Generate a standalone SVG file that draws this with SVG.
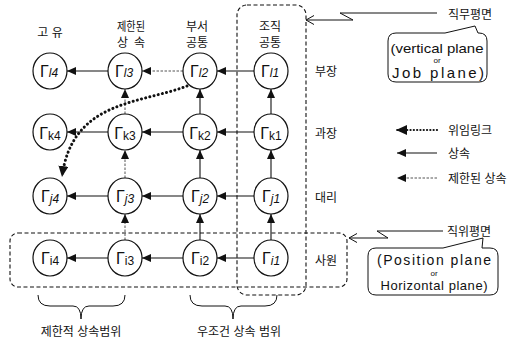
<svg xmlns="http://www.w3.org/2000/svg" width="520" height="343" viewBox="0 0 520 343">
  <style>
    .ko { font-family: "Liberation Sans", "Noto Sans CJK KR", sans-serif; font-size: 12px; fill: #111; }
    .en { font-family: "Liberation Sans", "Noto Sans CJK KR", sans-serif; fill: #111; }
    .node ellipse { fill: #fff; stroke: #111; stroke-width: 1.2; }
    .lbl { font-family: "Liberation Sans", sans-serif; fill: #111; text-anchor: middle; }
    .g { font-size: 16px; }
    .sub { font-size: 12px; }
    .it { font-style: italic; }
    .inh { stroke: #111; stroke-width: 1.1; fill: none; marker-end: url(#tri); }
    .lim { stroke: #555; stroke-width: 1; stroke-dasharray: 2.5 1.5; fill: none; marker-end: url(#tri); }
    .del { stroke: #111; stroke-width: 3; stroke-dasharray: 0.1 4.2; stroke-linecap: round; fill: none; marker-end: url(#bigtri); }
    .plane { fill: none; stroke: #111; stroke-width: 1.1; stroke-dasharray: 4 2.5; }
    .thin { fill: none; stroke: #111; stroke-width: 1; }
  </style>
  <defs>
    <marker id="tri" markerUnits="userSpaceOnUse" markerWidth="10" markerHeight="8" refX="9" refY="4" orient="auto">
      <path d="M0,0 L9,4 L0,8 Z" fill="#111"/>
    </marker>
    <marker id="bigtri" markerUnits="userSpaceOnUse" markerWidth="12" markerHeight="10" refX="11" refY="5" orient="auto">
      <path d="M0,0 L11,5 L0,10 Z" fill="#111"/>
    </marker>
  </defs>

  <!-- dashed plane outlines -->
  <rect class="plane" x="237" y="5" width="69" height="290" rx="10"/>
  <rect class="plane" x="10" y="233" width="337" height="54" rx="8"/>

  <!-- column headings -->
  <text class="ko" x="50" y="37" text-anchor="middle">고 유</text>
  <text class="ko" x="117" y="31" textLength="28" lengthAdjust="spacingAndGlyphs">제한된</text>
  <text class="ko" x="117" y="47" textLength="28" lengthAdjust="spacing">상 속</text>
  <text class="ko" x="197" y="31" text-anchor="middle">부서</text>
  <text class="ko" x="197" y="47" text-anchor="middle">공통</text>
  <text class="ko" x="270" y="31" text-anchor="middle">조직</text>
  <text class="ko" x="270" y="47" text-anchor="middle">공통</text>

  <!-- row headings -->
  <text class="ko" x="315" y="76">부장</text>
  <text class="ko" x="315" y="138">과장</text>
  <text class="ko" x="315" y="202">대리</text>
  <text class="ko" x="315" y="265">사원</text>

  <!-- connectors -->
  <g id="connectors">
    <!-- top row -->
    <line class="inh" x1="108" y1="71" x2="67" y2="71"/>
    <line class="lim" x1="183" y1="71" x2="142" y2="71"/>
    <line class="inh" x1="254" y1="71" x2="217" y2="71"/>
    <!-- k row -->
    <line class="inh" x1="108" y1="132" x2="67" y2="132"/>
    <line class="inh" x1="183" y1="132" x2="142" y2="132"/>
    <line class="inh" x1="254" y1="132" x2="217" y2="132"/>
    <!-- j row -->
    <line class="inh" x1="108" y1="196" x2="67" y2="196"/>
    <line class="inh" x1="183" y1="196" x2="142" y2="196"/>
    <line class="inh" x1="254" y1="196" x2="217" y2="196"/>
    <!-- i row -->
    <line class="inh" x1="108" y1="258" x2="67" y2="258"/>
    <line class="inh" x1="183" y1="258" x2="142" y2="258"/>
    <line class="inh" x1="254" y1="258" x2="217" y2="258"/>
    <!-- upward links, column 2 (limited) -->
    <line class="lim" x1="125" y1="114" x2="125" y2="89"/>
    <line class="lim" x1="125" y1="178" x2="125" y2="150"/>
    <line class="lim" x1="125" y1="240" x2="125" y2="214"/>
    <!-- upward links, column 3 -->
    <line class="inh" x1="200" y1="114" x2="200" y2="89"/>
    <line class="inh" x1="200" y1="178" x2="200" y2="150"/>
    <line class="inh" x1="200" y1="240" x2="200" y2="214"/>
    <!-- upward links, column 4 -->
    <line class="inh" x1="271" y1="114" x2="271" y2="89"/>
    <line class="inh" x1="271" y1="178" x2="271" y2="150"/>
    <line class="inh" x1="271" y1="240" x2="271" y2="214"/>
    <!-- delegation link -->
    <path class="del" d="M187,86 C140,104 72,100 62,177"/>
  </g>

  <!-- nodes -->
  <g id="n-l4" class="node"><ellipse cx="50" cy="71" rx="17" ry="18"/><text class="lbl" x="49" y="77"><tspan class="g">Γ</tspan><tspan class="sub it">l4</tspan></text></g>
  <g id="n-l3" class="node"><ellipse cx="125" cy="71" rx="17" ry="18"/><text class="lbl" x="124" y="77"><tspan class="g">Γ</tspan><tspan class="sub it">l3</tspan></text></g>
  <g id="n-l2" class="node"><ellipse cx="200" cy="71" rx="17" ry="18"/><text class="lbl" x="199" y="77"><tspan class="g">Γ</tspan><tspan class="sub it">l2</tspan></text></g>
  <g id="n-l1" class="node"><ellipse cx="271" cy="71" rx="17" ry="18"/><text class="lbl" x="270" y="77"><tspan class="g">Γ</tspan><tspan class="sub it">l1</tspan></text></g>

  <g id="n-k4" class="node"><ellipse cx="50" cy="132" rx="17" ry="18"/><text class="lbl" x="50" y="139"><tspan class="g">Γ</tspan><tspan class="sub" dy="1">k4</tspan></text></g>
  <g id="n-k3" class="node"><ellipse cx="125" cy="132" rx="17" ry="18"/><text class="lbl" x="125" y="139"><tspan class="g">Γ</tspan><tspan class="sub" dy="1">k3</tspan></text></g>
  <g id="n-k2" class="node"><ellipse cx="200" cy="132" rx="17" ry="18"/><text class="lbl" x="200" y="139"><tspan class="g">Γ</tspan><tspan class="sub" dy="1">k2</tspan></text></g>
  <g id="n-k1" class="node"><ellipse cx="271" cy="132" rx="17" ry="18"/><text class="lbl" x="271" y="139"><tspan class="g">Γ</tspan><tspan class="sub" dy="1">k1</tspan></text></g>

  <g id="n-j4" class="node"><ellipse cx="50" cy="196" rx="17" ry="18"/><text class="lbl" x="50" y="202"><tspan class="g">Γ</tspan><tspan class="sub it" dy="1">j4</tspan></text></g>
  <g id="n-j3" class="node"><ellipse cx="125" cy="196" rx="17" ry="18"/><text class="lbl" x="125" y="202"><tspan class="g">Γ</tspan><tspan class="sub it" dy="1">j3</tspan></text></g>
  <g id="n-j2" class="node"><ellipse cx="200" cy="196" rx="17" ry="18"/><text class="lbl" x="200" y="202"><tspan class="g">Γ</tspan><tspan class="sub it" dy="1">j2</tspan></text></g>
  <g id="n-j1" class="node"><ellipse cx="271" cy="196" rx="17" ry="18"/><text class="lbl" x="271" y="202"><tspan class="g">Γ</tspan><tspan class="sub it" dy="1">j1</tspan></text></g>

  <g id="n-i4" class="node"><ellipse cx="50" cy="258" rx="17" ry="18"/><text class="lbl" x="50" y="264"><tspan class="g">Γ</tspan><tspan class="sub" dy="1">i4</tspan></text></g>
  <g id="n-i3" class="node"><ellipse cx="125" cy="258" rx="17" ry="18"/><text class="lbl" x="125" y="264"><tspan class="g">Γ</tspan><tspan class="sub" dy="1">i3</tspan></text></g>
  <g id="n-i2" class="node"><ellipse cx="200" cy="258" rx="17" ry="18"/><text class="lbl" x="200" y="264"><tspan class="g">Γ</tspan><tspan class="sub" dy="1">i2</tspan></text></g>
  <g id="n-i1" class="node"><ellipse cx="271" cy="258" rx="17" ry="18"/><text class="lbl" x="271" y="264"><tspan class="g">Γ</tspan><tspan class="sub it" dy="1">i1</tspan></text></g>

  <!-- legend -->
  <g id="legend">
    <line class="del" x1="437" y1="130" x2="396" y2="130" style="stroke-width:2.2;stroke-dasharray:0.1 3.2"/>
    <text class="ko" x="448" y="135">위임링크</text>
    <line class="inh" x1="437" y1="153" x2="397" y2="153"/>
    <text class="ko" x="448" y="158">상속</text>
    <line class="lim" x1="437" y1="178" x2="397" y2="178"/>
    <text class="ko" x="448" y="183">제한된 상속</text>
  </g>

  <!-- job plane callout -->
  <g id="job-plane">
    <polyline class="thin" points="437,13 340,13 353,20 306,20"/>
    <polyline class="thin" points="314,15.5 306,20 314,24.5"/>
    <text class="ko" x="448" y="19">직무평면</text>
    <path class="thin" d="M396,33 H445 L475,26 L478,33 H479 Q487,33 487,41 V74 Q487,82 479,82 H396 Q388,82 388,74 V41 Q388,33 396,33 Z"/>
    <text class="en" x="437" y="53" text-anchor="middle" font-size="13" textLength="93" lengthAdjust="spacingAndGlyphs">(vertical plane</text>
    <text class="en" x="437" y="63" text-anchor="middle" font-size="8">or</text>
    <text class="en" x="438" y="78" text-anchor="middle" font-size="15" textLength="92" lengthAdjust="spacing">Job plane)</text>
  </g>

  <!-- position plane callout -->
  <g id="position-plane">
    <polyline class="thin" points="443,231 377,231 388,238 349,238"/>
    <polyline class="thin" points="357,233.5 349,238 357,242.5"/>
    <text class="ko" x="447" y="236">직위평면</text>
    <path class="thin" d="M376,248 H443 L483,238 L482,248 H490 Q498,248 498,256 V287 Q498,295 490,295 H376 Q368,295 368,287 V256 Q368,248 376,248 Z"/>
    <text class="en" x="434" y="265" text-anchor="middle" font-size="14" textLength="114" lengthAdjust="spacing">(Position plane</text>
    <text class="en" x="434" y="276" text-anchor="middle" font-size="8">or</text>
    <text class="en" x="434" y="290" text-anchor="middle" font-size="13" textLength="107" lengthAdjust="spacing">Horizontal plane)</text>
  </g>

  <!-- range braces -->
  <path class="thin" d="M38,295 Q38,306 50,306 H73 Q81,306 81,319 Q81,306 89,306 H113 Q125,306 125,295"/>
  <text class="ko" x="81" y="336" text-anchor="middle" font-size="11">제한적 상속범위</text>
  <path class="thin" d="M190,295 Q190,306 202,306 H225 Q233,306 233,319 Q233,306 241,306 H265 Q277,306 277,295"/>
  <text class="ko" x="239" y="336" text-anchor="middle" font-size="11">우조건 상속 범위</text>
</svg>
